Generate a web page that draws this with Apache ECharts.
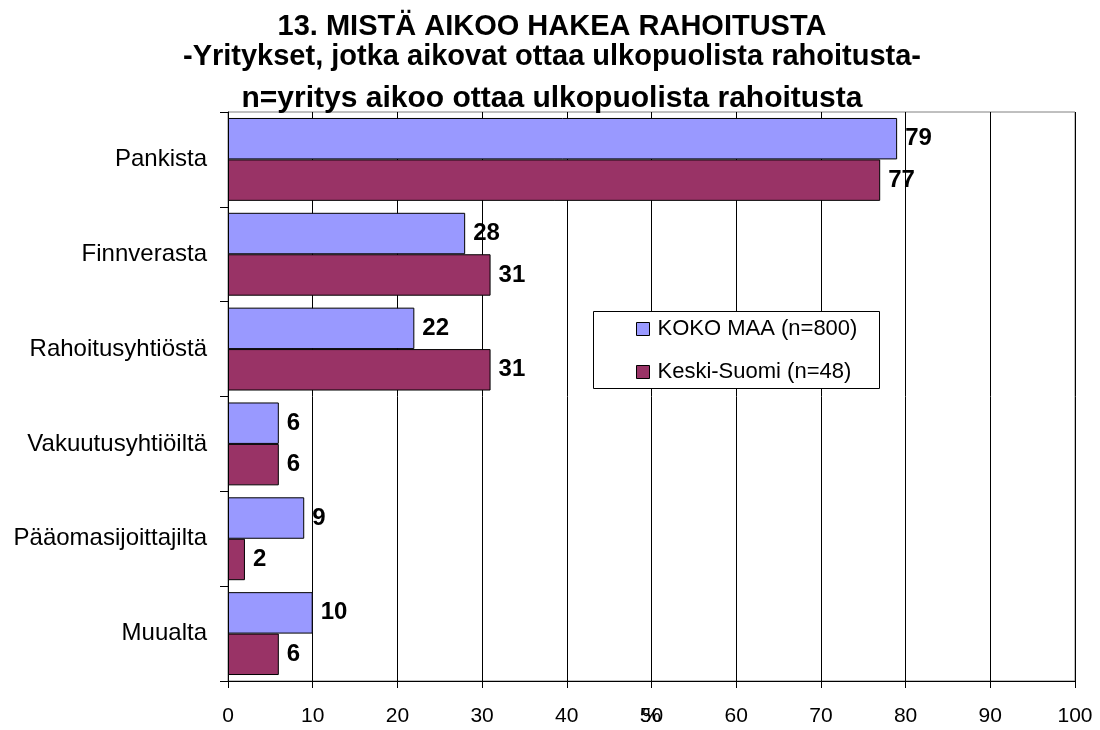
<!DOCTYPE html>
<html>
<head>
<meta charset="utf-8">
<script src="https://cdn.jsdelivr.net/npm/echarts@6/dist/echarts.min.js"></script>
<style>html,body{margin:0;padding:0;background:#fff}#c{width:1100px;height:730px}</style>
</head>
<body>
<div id="c"></div>
<script>
const categories = ['Pankista', 'Finnverasta', 'Rahoitusyhtiöstä', 'Vakuutusyhtiöiltä', 'Pääomasijoittajilta', 'Muualta'];
const seriesNames = ['KOKO MAA (n=800)', 'Keski-Suomi (n=48)'];
const kokoMaa = [79, 28, 22, 6, 9, 10];
const keskiSuomi = [77, 31, 31, 6, 2, 6];
const titleLines = ['13. MISTÄ AIKOO HAKEA RAHOITUSTA', '-Yritykset, jotka aikovat ottaa ulkopuolista rahoitusta-', 'n=yritys aikoo ottaa ulkopuolista rahoitusta'];
const xTicks = { min: 0, max: 100, interval: 10 };
const axisName = '%';

const font = '"Liberation Sans", Arial, sans-serif';
const chart = echarts.init(document.getElementById('c'), null, { renderer: 'canvas' });
const titleTops = [12, 42, 84];
const titleSizes = [29, 29, 30];
chart.setOption({
  animation: false,
  backgroundColor: '#fff',
  title: titleLines.map((t, i) => ({
    text: t, left: 552, top: titleTops[i], textAlign: 'center', padding: 0,
    textStyle: { fontFamily: font, fontSize: titleSizes[i], fontWeight: 'bold', color: '#000' }
  })),
  grid: { left: 228, right: 25, top: 112, bottom: 49, show: true, borderColor: '#808080', borderWidth: 1, containLabel: false, outerBoundsMode: 'none' },
  graphic: [{
    type: 'rect', z: 5, shape: { x: 593.5, y: 311.5, width: 286, height: 77 },
    style: { fill: '#fff', stroke: '#000', lineWidth: 1 }
  }],
  legend: {
    orient: 'vertical', left: 636, top: 318, padding: 0, z: 6,
    icon: 'rect', itemWidth: 13, itemHeight: 13, itemGap: 21,
    textStyle: { fontFamily: font, fontSize: 22, color: '#000', lineHeight: 20, padding: [0, 0, 0, 3] },
    data: seriesNames.map(n => ({ name: n, itemStyle: { borderColor: '#000', borderWidth: 1 } }))
  },
  xAxis: {
    type: 'value', min: xTicks.min, max: xTicks.max, interval: xTicks.interval,
    name: axisName, nameLocation: 'middle', nameGap: 25, nameMoveOverlap: false,
    nameTextStyle: { fontFamily: font, fontSize: 21, color: '#000', verticalAlign: 'top' },
    axisLine: { show: true, lineStyle: { color: '#000', width: 1 } },
    axisTick: { show: true, length: 7, lineStyle: { color: '#000' } },
    axisLabel: { fontFamily: font, fontSize: 21, color: '#000', margin: 25 },
    splitLine: { show: true, lineStyle: { color: '#000', width: 1 } }
  },
  yAxis: {
    type: 'category', data: categories, inverse: true,
    axisLine: { show: true, lineStyle: { color: '#000', width: 1 } },
    axisTick: { show: true, length: 8, lineStyle: { color: '#000' } },
    axisLabel: { fontFamily: font, fontSize: 24, color: '#000', margin: 21 },
    splitLine: { show: false }
  },
  series: [
    {
      name: seriesNames[0], type: 'bar', data: kokoMaa, barGap: '0%', barCategoryGap: '12.6%',
      itemStyle: { color: '#9999FF', borderColor: '#000', borderWidth: 1 },
      label: { show: true, position: 'right', distance: 8, fontFamily: font, fontSize: 24, fontWeight: 'bold', color: '#000' }
    },
    {
      name: seriesNames[1], type: 'bar', data: keskiSuomi, barGap: '0%', barCategoryGap: '12.6%',
      itemStyle: { color: '#993366', borderColor: '#000', borderWidth: 1 },
      label: { show: true, position: 'right', distance: 8, fontFamily: font, fontSize: 24, fontWeight: 'bold', color: '#000' }
    }
  ]
});
</script>
</body>
</html>
